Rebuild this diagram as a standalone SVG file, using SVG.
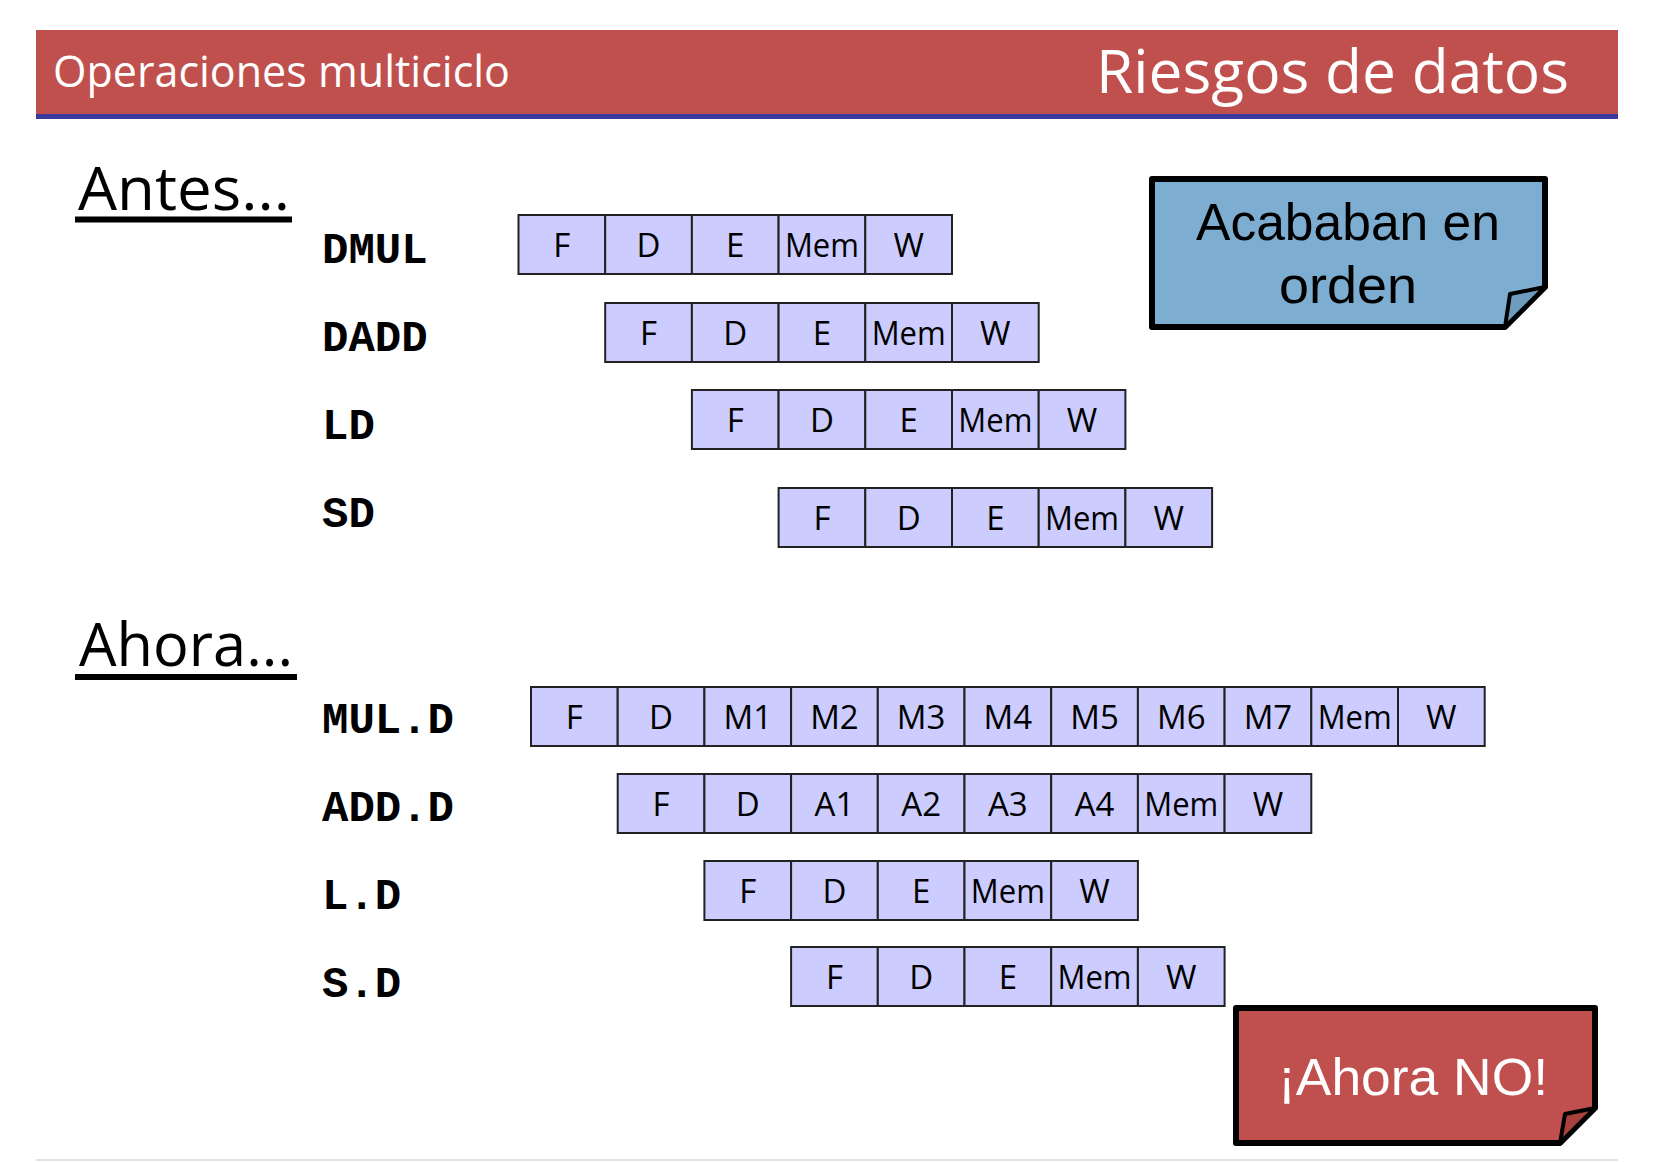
<svg xmlns="http://www.w3.org/2000/svg" width="1654" height="1162" viewBox="0 0 1654 1162">
<style>
.c{fill:#ccccff;stroke:#222;stroke-width:2}
.t{font-family:"Open Sans","Liberation Sans",sans-serif;font-size:33px;fill:#000;text-anchor:middle}
.lbl{font-family:"Liberation Mono","Courier New",monospace;font-weight:bold;font-size:44px;fill:#000}
.h{font-family:"Open Sans","Liberation Sans",sans-serif;fill:#fff}
.sec{font-family:"Open Sans","Liberation Sans",sans-serif;font-size:60px;fill:#000}
.co{font-family:"Liberation Sans","Open Sans",sans-serif;font-size:52px;text-anchor:middle}
</style>
<rect width="1654" height="1162" fill="#fff"/>
<g id="header">
<rect x="36" y="30" width="1582" height="85" fill="#c0504d"/>
<rect x="36" y="114" width="1582" height="5" fill="#3a3a9c"/>
<text class="h" x="53" y="87" font-size="44" textLength="457" lengthAdjust="spacingAndGlyphs">Operaciones multiciclo</text>
<text class="h" x="1096" y="93" font-size="60" textLength="473" lengthAdjust="spacingAndGlyphs">Riesgos de datos</text>
</g>
<line x1="36" y1="1160" x2="1618" y2="1160" stroke="#e2e2e2" stroke-width="2"/>
<g id="antes">
<text class="sec" x="78" y="210" textLength="212" lengthAdjust="spacingAndGlyphs">Antes...</text>
<rect x="75" y="216.5" width="217" height="6" fill="#000"/>
</g>
<g id="ahora">
<text class="sec" x="79" y="666" textLength="214" lengthAdjust="spacingAndGlyphs">Ahora...</text>
<rect x="75" y="674" width="222" height="6" fill="#000"/>
</g>
<g id="row-dmul">
<text class="lbl" x="322" y="263">DMUL</text>
<rect class="c" x="518.5" y="215" width="86.7" height="59"/><rect class="c" x="605.2" y="215" width="86.7" height="59"/><rect class="c" x="691.9" y="215" width="86.7" height="59"/><rect class="c" x="778.6" y="215" width="86.7" height="59"/><rect class="c" x="865.3" y="215" width="86.7" height="59"/>
<text class="t" x="561.85" y="257">F</text><text class="t" x="648.55" y="257">D</text><text class="t" x="735.25" y="257">E</text><text class="t" x="821.95" y="257" textLength="74" lengthAdjust="spacingAndGlyphs">Mem</text><text class="t" x="908.65" y="257">W</text>
</g>
<g id="row-dadd">
<text class="lbl" x="322" y="351">DADD</text>
<rect class="c" x="605.2" y="303" width="86.7" height="59"/><rect class="c" x="691.9" y="303" width="86.7" height="59"/><rect class="c" x="778.6" y="303" width="86.7" height="59"/><rect class="c" x="865.3" y="303" width="86.7" height="59"/><rect class="c" x="952" y="303" width="86.7" height="59"/>
<text class="t" x="648.55" y="345">F</text><text class="t" x="735.25" y="345">D</text><text class="t" x="821.95" y="345">E</text><text class="t" x="908.65" y="345" textLength="74" lengthAdjust="spacingAndGlyphs">Mem</text><text class="t" x="995.35" y="345">W</text>
</g>
<g id="row-ld">
<text class="lbl" x="322" y="439">LD</text>
<rect class="c" x="691.9" y="390" width="86.7" height="59"/><rect class="c" x="778.6" y="390" width="86.7" height="59"/><rect class="c" x="865.3" y="390" width="86.7" height="59"/><rect class="c" x="952" y="390" width="86.7" height="59"/><rect class="c" x="1038.7" y="390" width="86.7" height="59"/>
<text class="t" x="735.25" y="432">F</text><text class="t" x="821.95" y="432">D</text><text class="t" x="908.65" y="432">E</text><text class="t" x="995.35" y="432" textLength="74" lengthAdjust="spacingAndGlyphs">Mem</text><text class="t" x="1082.05" y="432">W</text>
</g>
<g id="row-sd">
<text class="lbl" x="322" y="527">SD</text>
<rect class="c" x="778.6" y="488" width="86.7" height="59"/><rect class="c" x="865.3" y="488" width="86.7" height="59"/><rect class="c" x="952" y="488" width="86.7" height="59"/><rect class="c" x="1038.7" y="488" width="86.7" height="59"/><rect class="c" x="1125.4" y="488" width="86.7" height="59"/>
<text class="t" x="821.95" y="530">F</text><text class="t" x="908.65" y="530">D</text><text class="t" x="995.35" y="530">E</text><text class="t" x="1082.05" y="530" textLength="74" lengthAdjust="spacingAndGlyphs">Mem</text><text class="t" x="1168.75" y="530">W</text>
</g>
<g id="row-muld">
<text class="lbl" x="322" y="733">MUL.D</text>
<rect class="c" x="531" y="687" width="86.7" height="59"/><rect class="c" x="617.7" y="687" width="86.7" height="59"/><rect class="c" x="704.4" y="687" width="86.7" height="59"/><rect class="c" x="791.1" y="687" width="86.7" height="59"/><rect class="c" x="877.8" y="687" width="86.7" height="59"/><rect class="c" x="964.5" y="687" width="86.7" height="59"/><rect class="c" x="1051.2" y="687" width="86.7" height="59"/><rect class="c" x="1137.9" y="687" width="86.7" height="59"/><rect class="c" x="1224.6" y="687" width="86.7" height="59"/><rect class="c" x="1311.3" y="687" width="86.7" height="59"/><rect class="c" x="1398" y="687" width="86.7" height="59"/>
<text class="t" x="574.35" y="729">F</text><text class="t" x="661.05" y="729">D</text><text class="t" x="747.75" y="729">M1</text><text class="t" x="834.45" y="729">M2</text><text class="t" x="921.15" y="729">M3</text><text class="t" x="1007.85" y="729">M4</text><text class="t" x="1094.55" y="729">M5</text><text class="t" x="1181.25" y="729">M6</text><text class="t" x="1267.95" y="729">M7</text><text class="t" x="1354.65" y="729" textLength="74" lengthAdjust="spacingAndGlyphs">Mem</text><text class="t" x="1441.35" y="729">W</text>
</g>
<g id="row-addd">
<text class="lbl" x="322" y="821">ADD.D</text>
<rect class="c" x="617.7" y="774" width="86.7" height="59"/><rect class="c" x="704.4" y="774" width="86.7" height="59"/><rect class="c" x="791.1" y="774" width="86.7" height="59"/><rect class="c" x="877.8" y="774" width="86.7" height="59"/><rect class="c" x="964.5" y="774" width="86.7" height="59"/><rect class="c" x="1051.2" y="774" width="86.7" height="59"/><rect class="c" x="1137.9" y="774" width="86.7" height="59"/><rect class="c" x="1224.6" y="774" width="86.7" height="59"/>
<text class="t" x="661.05" y="816">F</text><text class="t" x="747.75" y="816">D</text><text class="t" x="834.45" y="816">A1</text><text class="t" x="921.15" y="816">A2</text><text class="t" x="1007.85" y="816">A3</text><text class="t" x="1094.55" y="816">A4</text><text class="t" x="1181.25" y="816" textLength="74" lengthAdjust="spacingAndGlyphs">Mem</text><text class="t" x="1267.95" y="816">W</text>
</g>
<g id="row-ld2">
<text class="lbl" x="322" y="909">L.D</text>
<rect class="c" x="704.4" y="861" width="86.7" height="59"/><rect class="c" x="791.1" y="861" width="86.7" height="59"/><rect class="c" x="877.8" y="861" width="86.7" height="59"/><rect class="c" x="964.5" y="861" width="86.7" height="59"/><rect class="c" x="1051.2" y="861" width="86.7" height="59"/>
<text class="t" x="747.75" y="903">F</text><text class="t" x="834.45" y="903">D</text><text class="t" x="921.15" y="903">E</text><text class="t" x="1007.85" y="903" textLength="74" lengthAdjust="spacingAndGlyphs">Mem</text><text class="t" x="1094.55" y="903">W</text>
</g>
<g id="row-sd2">
<text class="lbl" x="322" y="997">S.D</text>
<rect class="c" x="791.1" y="947" width="86.7" height="59"/><rect class="c" x="877.8" y="947" width="86.7" height="59"/><rect class="c" x="964.5" y="947" width="86.7" height="59"/><rect class="c" x="1051.2" y="947" width="86.7" height="59"/><rect class="c" x="1137.9" y="947" width="86.7" height="59"/>
<text class="t" x="834.45" y="989">F</text><text class="t" x="921.15" y="989">D</text><text class="t" x="1007.85" y="989">E</text><text class="t" x="1094.55" y="989" textLength="74" lengthAdjust="spacingAndGlyphs">Mem</text><text class="t" x="1181.25" y="989">W</text>
</g>
<g id="callout-orden">
<path d="M1152,179 H1545 V287 L1505,327 H1152 Z" fill="#7dadd1" stroke="#000" stroke-width="6" stroke-linejoin="round"/>
<path d="M1545,287 L1510,294 L1505,327 Z" fill="#6e9cbf" stroke="#000" stroke-width="4" stroke-linejoin="round"/>
<text class="co" x="1348" y="240" fill="#000" textLength="304" lengthAdjust="spacingAndGlyphs">Acababan en</text>
<text class="co" x="1348" y="303" fill="#000" textLength="138" lengthAdjust="spacingAndGlyphs">orden</text>
</g>
<g id="callout-no">
<path d="M1236,1008 H1595 V1108 L1560,1143 H1236 Z" fill="#c0504d" stroke="#000" stroke-width="6" stroke-linejoin="round"/>
<path d="M1595,1108 L1565,1114 L1560,1143 Z" fill="#a8403e" stroke="#000" stroke-width="4" stroke-linejoin="round"/>
<text class="co" x="1413" y="1095" fill="#fff" textLength="270" lengthAdjust="spacingAndGlyphs">¡Ahora NO!</text>
</g>
</svg>
